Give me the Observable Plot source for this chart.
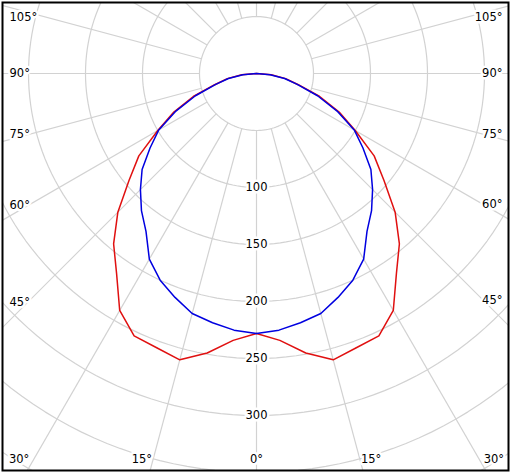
<!DOCTYPE html>
<html><head><meta charset="utf-8">
<script src="https://cdn.jsdelivr.net/npm/d3@7"></script>
<script src="https://cdn.jsdelivr.net/npm/@observablehq/plot@0.6"></script>
<style>body{margin:0;background:#fff} #chart svg{display:block}</style>
</head><body><div id="chart"></div>
<script>
// ---- data (gamma angle in degrees, luminous intensity) ----
const angles     = [0, 5, 10, 15, 20, 25, 30, 35, 40, 45, 50, 55, 60, 65, 70, 75, 80, 85, 90];
const redValues  = [228, 235, 249, 260, 256, 254, 240, 214, 195, 172, 146, 126, 100, 80, 59, 38, 26, 13, 0];
const blueValues = [228, 226, 222, 218, 209, 200, 188, 169, 157, 144, 131, 114, 99, 78, 57, 37, 25, 12, 0];
const radiusTickLabels = [100, 150, 200, 250, 300];
const gridRadii = [50, 100, 150, 200, 250, 300, 350, 400, 450, 500];
const spokeAngles = [0, 15, 30, 45, 60, 75, 90, 105, 120, 135, 150, 165, 180];
const sideLabelAngles = [45, 60, 75, 90, 105];
const bottomLabelAngles = [0, 15, 30];

// ---- layout ----
const W = 510, H = 472, M = 2;
const pxPerUnit = 1.14, cxPx = 256, cyPx = 73;
const xDomain = [-(cxPx - M) / pxPerUnit, (W - M - cxPx) / pxPerUnit];
const yDomain = [-(H - M - cyPx) / pxPerUnit, (cyPx - M) / pxPerUnit];
const rad = d => d * Math.PI / 180;
const polar = (r, g, side) => ({x: side * r * Math.sin(rad(g)), y: -r * Math.cos(rad(g))});

function curve(values, name) {
  const pts = [];
  for (let i = angles.length - 1; i >= 0; i--) pts.push({...polar(values[i], angles[i], -1), s: name});
  for (let i = 1; i < angles.length; i++) pts.push({...polar(values[i], angles[i], 1), s: name});
  return pts;
}
const circles = gridRadii.flatMap(r => d3.range(0, 361, 2).map(a => ({r, ...polar(r, a, 1)})));
const spokes = spokeAngles.flatMap(g => (g === 0 || g === 180 ? [1] : [-1, 1]).map(side => {
  const a = polar(50, g, side), b = polar(700, g, side);
  return {x1: a.x, y1: a.y, x2: b.x, y2: b.y};
}));
const radLabels = radiusTickLabels.map(r => ({...polar(r, 0, 1), t: String(r)}));
const yTopLimit = yDomain[1] - 15 / pxPerUnit;
const sideLabels = sideLabelAngles.flatMap(g => [-1, 1].map(side => {
  const xEdge = side < 0 ? xDomain[0] : xDomain[1];
  const t = Math.abs(xEdge) / Math.sin(rad(g));
  const y = Math.min(0.9 * (-t * Math.cos(rad(g))), yTopLimit);
  return {x: xEdge, y, side, t: g + "°"};
}));
const bottomLabels = bottomLabelAngles.flatMap(g => (g === 0 ? [0] : [-1, 1]).map(side => {
  const t = Math.abs(yDomain[0]) / Math.cos(rad(g));
  return {x: side * t * Math.sin(rad(g)), y: yDomain[0], side, t: g + "°"};
}));

const font = {fontSize: 11.5, fill: "black", stroke: "white", strokeWidth: 5};
const chart = Plot.plot({
  width: W, height: H,
  marginTop: M, marginRight: M, marginBottom: M, marginLeft: M,
  style: {fontFamily: "Tahoma, 'DejaVu Sans', sans-serif", background: "white"},
  x: {domain: xDomain, axis: null},
  y: {domain: yDomain, axis: null},
  marks: [
    Plot.line(circles, {x: "x", y: "y", z: "r", stroke: "#d2d2d2", strokeWidth: 1.2, clip: true}),
    Plot.link(spokes, {x1: "x1", y1: "y1", x2: "x2", y2: "y2", stroke: "#d2d2d2", strokeWidth: 1.2, clip: true}),
    Plot.line(curve(redValues, "red"), {x: "x", y: "y", stroke: "#e01010", strokeWidth: 1.5, curve: "linear"}),
    Plot.line(curve(blueValues, "blue"), {x: "x", y: "y", stroke: "#0000e0", strokeWidth: 1.5, curve: "linear"}),
    Plot.text(radLabels, {x: "x", y: "y", text: "t", ...font}),
    Plot.text(sideLabels.filter(d => d.side < 0), {x: "x", y: "y", text: "t", textAnchor: "start", dx: 7, ...font}),
    Plot.text(sideLabels.filter(d => d.side > 0), {x: "x", y: "y", text: "t", textAnchor: "end", dx: -6, ...font}),
    Plot.text(bottomLabels.filter(d => d.side < 0), {x: "x", y: "y", text: "t", textAnchor: "end", dx: 2, dy: -11, ...font}),
    Plot.text(bottomLabels.filter(d => d.side === 0), {x: "x", y: "y", text: "t", textAnchor: "middle", dy: -11, ...font}),
    Plot.text(bottomLabels.filter(d => d.side > 0), {x: "x", y: "y", text: "t", textAnchor: "start", dx: -2, dy: -11, ...font}),
    Plot.frame({stroke: "black", strokeWidth: 2})
  ]
});
document.getElementById("chart").append(chart);
</script>
</body></html>
